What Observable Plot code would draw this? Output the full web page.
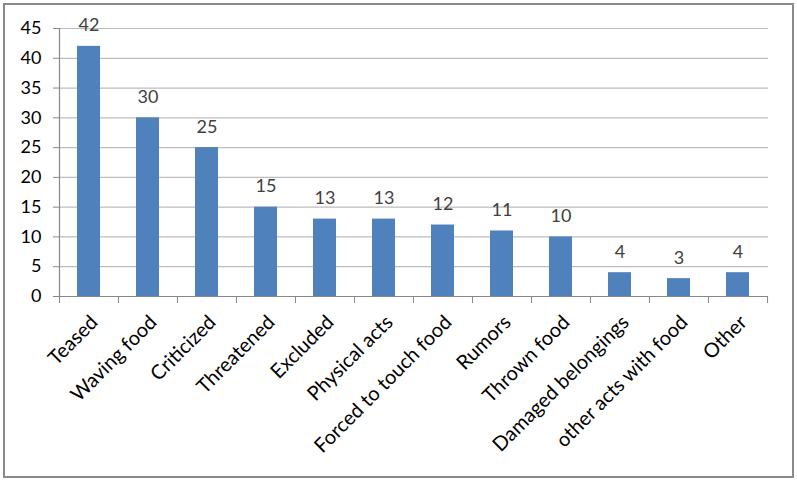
<!DOCTYPE html>
<html>
<head>
<meta charset="utf-8">
<script src="https://cdn.jsdelivr.net/npm/d3@7"></script>
<script src="https://cdn.jsdelivr.net/npm/@observablehq/plot@0.6"></script>
<style>
  html, body { margin: 0; padding: 0; background: #fff; }
  #chart { position: relative; width: 797px; height: 480px; }
  #chart svg { display: block; }
  #border { position: absolute; left: 3px; top: 3px; width: 787px; height: 471px; border: 2px solid #8a8a8a; pointer-events: none; }
</style>
</head>
<body>
<div id="chart"><div id="border"></div></div>
<script>
const categories = ["Teased", "Waving food", "Criticized", "Threatened", "Excluded", "Physical acts", "Forced to touch food", "Rumors", "Thrown food", "Damaged belongings", "other acts with food", "Other"];
const values = [42, 30, 25, 15, 13, 13, 12, 11, 10, 4, 3, 4];
const yTicks = [0, 5, 10, 15, 20, 25, 30, 35, 40, 45];

const data = categories.map((c, i) => ({category: c, value: values[i]}));

const W = 797, H = 480;
const mL = 59, mR = 29, mT = 28, mB = 184;
const step = (W - mL - mR) / categories.length;
const font = "Lato, 'Open Sans', sans-serif";
const fs = 18;

const plot = Plot.plot({
  width: W,
  height: H,
  marginLeft: mL,
  marginRight: mR,
  marginTop: mT,
  marginBottom: mB,
  style: {fontFamily: font, fontSize: fs + "px", color: "#000", background: "transparent"},
  x: {domain: categories, paddingInner: 0.61, paddingOuter: 0.305, axis: null},
  y: {domain: [0, 45], axis: null},
  marks: [
    Plot.gridY(yTicks, {stroke: "#bdbdbd", strokeOpacity: 1, strokeWidth: 1.2}),
    Plot.barY(data, {x: "category", y: "value", fill: "#4f81bd"}),
    Plot.frame({anchor: "left", stroke: "#888", strokeWidth: 1.2}),
    Plot.ruleY([0], {stroke: "#888", strokeWidth: 1.2}),
    Plot.axisY({ticks: yTicks, tickSize: 6, tickPadding: 12, stroke: "#888", fontSize: fs, fill: "#000", label: null}),
    // boundary ticks between categories
    Plot.axisX({ticks: categories, tickSize: 7, text: null, stroke: "#888", dx: -step / 2, label: null}),
    Plot.axisX({ticks: categories.slice(-1), tickSize: 7, text: null, stroke: "#888", dx: step / 2, label: null}),
    // rotated category labels
    Plot.text(data, {x: "category", y: () => 0, text: "category", rotate: -45, textAnchor: "end", lineAnchor: "top", dx: 0, dy: 17, fontSize: 20, fill: "#000"}),
    // value labels
    Plot.text(data, {x: "category", y: "value", text: d => String(d.value), lineAnchor: "bottom", dy: -15, fontSize: fs, fill: "#404040"})
  ]
});
document.getElementById("chart").prepend(plot);
</script>
</body>
</html>
